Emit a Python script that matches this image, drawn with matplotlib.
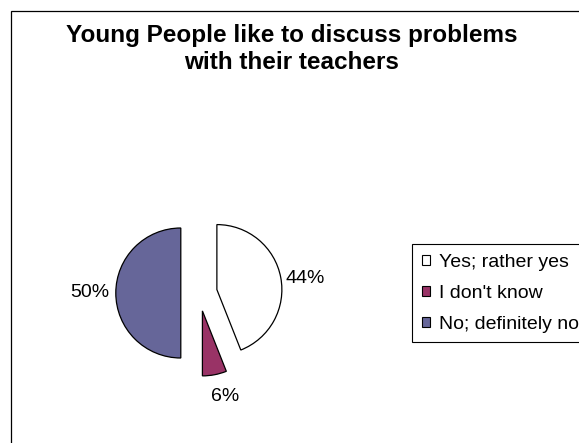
import matplotlib
matplotlib.use("Agg")
import matplotlib.pyplot as plt
from matplotlib.patches import Rectangle, Patch
import numpy as np

plt.rcParams['font.family'] = ['Liberation Sans', 'DejaVu Sans']

title = "Young People like to discuss problems\nwith their teachers"
categories = ["Yes; rather yes", "I don't know", "No; definitely no"]
values = [44, 6, 50]
pct_labels = ["44%", "6%", "50%"]
colors = ["#FFFFFF", "#993366", "#666699"]

W, H = 579, 443
fig = plt.figure(figsize=(W / 100, H / 100), dpi=100)
ax = fig.add_axes([0, 0, 1, 1])
ax.set_xlim(0, W)
ax.set_ylim(0, H)
ax.axis('off')

# outer chart border (clipped at right/bottom like the reference)
ax.add_patch(Rectangle((11, -20), 700, H - 11 + 20, fill=False,
                       edgecolor='black', linewidth=0.9, clip_on=False))

cx, cy, r = 199, H - 293, 65
explode_frac = 0.28
wedges, _ = ax.pie(values, colors=colors, startangle=90, counterclock=False,
                   center=(cx, cy), radius=r,
                   explode=[explode_frac * r] * len(values),
                   wedgeprops=dict(edgecolor='black', linewidth=0.9))
ax.set_xlim(0, W)
ax.set_ylim(0, H)
ax.set_aspect('auto')

label_dist = [1.37, 1.36, 1.40]
label_angle_shift = [-3.5, 4.0, 0.0]
for w, lab, d, s in zip(wedges, pct_labels, label_dist, label_angle_shift):
    ang = np.deg2rad((w.theta1 + w.theta2) / 2 + s)
    ecx, ecy = w.center
    ax.text(ecx + d * r * np.cos(ang), ecy + d * r * np.sin(ang), lab,
            ha='center', va='center', fontsize=14)

fig.text(292 / W, 1 - 49 / H, title, ha='center', va='center',
         fontsize=17.5, fontweight='bold', linespacing=1.27)

handles = [Patch(facecolor=c, edgecolor='black', linewidth=0.8) for c in colors]
leg = fig.legend(handles, categories, loc='upper left',
                 bbox_to_anchor=(412 / W, 1 - 244 / H), borderaxespad=0,
                 fancybox=False, edgecolor='black', fontsize=14,
                 handlelength=0.45, handleheight=0.45, handletextpad=0.45,
                 labelspacing=0.72, borderpad=0.5, framealpha=1)
leg.get_frame().set_linewidth(0.8)

fig.savefig("out.png", dpi=100)
